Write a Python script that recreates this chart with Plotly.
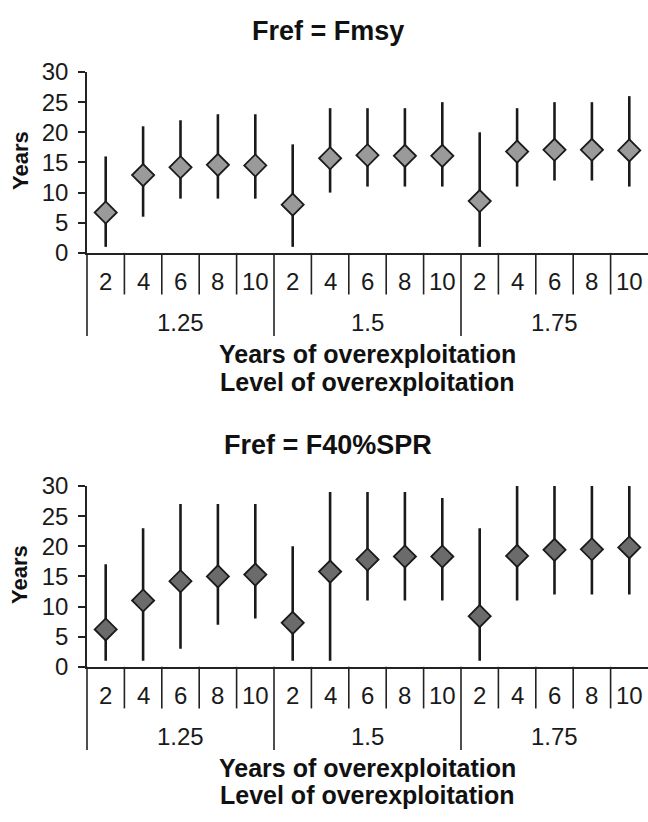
import plotly.graph_objects as go

# ---- data ----
years = ["2", "4", "6", "8", "10"]
levels = ["1.25", "1.5", "1.75"]

fmsy_mid = [6.7, 12.9, 14.2, 14.6, 14.5, 8.0, 15.7, 16.2, 16.1, 16.1, 8.6, 16.8, 17.1, 17.1, 17.0]
fmsy_lo = [1, 6, 9, 9, 9, 1, 10, 11, 11, 11, 1, 11, 12, 12, 11]
fmsy_hi = [16, 21, 22, 23, 23, 18, 24, 24, 24, 25, 20, 24, 25, 25, 26]

f40_mid = [6.2, 11.0, 14.2, 15.0, 15.3, 7.3, 15.8, 17.8, 18.3, 18.3, 8.4, 18.4, 19.4, 19.5, 19.8]
f40_lo = [1, 1, 3, 7, 8, 1, 1, 11, 11, 11, 1, 11, 12, 12, 12]
f40_hi = [17, 23, 27, 27, 27, 20, 29, 29, 29, 28, 23, 30, 30, 30, 30]

y_ticks = [0, 5, 10, 15, 20, 25, 30]
titles = ["Fref = Fmsy", "Fref = F40%SPR"]
x_title1 = "Years of overexploitation"
x_title2 = "Level of overexploitation"
y_title = "Years"

# ---- layout constants ----
W, H = 648, 822
FONT = "Liberation Sans, Arial, Helvetica, sans-serif"
INK = "#1a1a1a"


def py(pix):
    return 1 - pix / H


cats = [(lv, yr) for lv in levels for yr in years]
n = len(cats)
xs = list(range(n))

panels = [
    dict(title=titles[0], mid=fmsy_mid, lo=fmsy_lo, hi=fmsy_hi, color="#9a9a9a", off=0, ax=""),
    dict(title=titles[1], mid=f40_mid, lo=f40_lo, hi=f40_hi, color="#6b6b6b", off=428, ax="2"),
]

fig = go.Figure()
annotations = []
shapes = []
layout_axes = {}

for p in panels:
    off = p["off"]
    ax = p["ax"]
    fig.add_trace(go.Scatter(
        x=xs, y=p["mid"], mode="markers",
        xaxis="x" + ax, yaxis="y" + ax,
        marker=dict(symbol="diamond", size=17, color=p["color"],
                    line=dict(color=INK, width=1.8)),
        error_y=dict(type="data", symmetric=False,
                     array=[h - m for h, m in zip(p["hi"], p["mid"])],
                     arrayminus=[m - l for m, l in zip(p["mid"], p["lo"])],
                     thickness=2.6, width=0, color=INK),
        cliponaxis=False, showlegend=False, hoverinfo="skip",
    ))
    y_bottom = 247 + off
    y_top = 60 + off
    layout_axes["xaxis" + ax] = dict(
        domain=[87 / W, 1.0], range=[-0.5, n - 0.5], anchor="y" + ax,
        showline=True, linecolor="#222222", linewidth=1.6,
        showticklabels=False, ticks="", showgrid=False, zeroline=False,
        fixedrange=True,
    )
    layout_axes["yaxis" + ax] = dict(
        domain=[py(y_bottom), py(y_top)], range=[0, 30], anchor="x" + ax,
        tickvals=y_ticks, ticks="outside", ticklen=7, tickwidth=1.6, tickcolor="#222222",
        showline=True, linecolor="#222222", linewidth=1.6,
        showgrid=False, zeroline=False, ticklabelstandoff=5,
        tickfont=dict(family=FONT, size=24, color=INK), fixedrange=True,
    )
    xdom = "x" + ax + " domain"
    xd = "x" + ax
    # title
    annotations.append(dict(text="<b>%s</b>" % p["title"], xref="paper", yref="paper",
                            x=328 / W, y=py(18 + off), showarrow=False,
                            xanchor="center", yanchor="middle",
                            font=dict(family=FONT, size=27, color="#111111")))
    # y title
    annotations.append(dict(text="<b>%s</b>" % y_title, xref="paper", yref="paper",
                            x=20 / W, y=py(152 + off), showarrow=False, textangle=-90,
                            xanchor="center", yanchor="middle",
                            font=dict(family=FONT, size=22, color="#111111")))
    # inner tick labels
    for i, (lv, yr) in enumerate(cats):
        annotations.append(dict(text=yr, xref=xd, yref="paper", x=i, y=py(277 + off),
                                showarrow=False, xanchor="center", yanchor="middle",
                                font=dict(family=FONT, size=24, color=INK)))
    # outer labels
    for g, lv in enumerate(levels):
        center = g * len(years) + (len(years) - 1) / 2
        annotations.append(dict(text=lv, xref=xd, yref="paper", x=center, y=py(319 + off),
                                showarrow=False, xanchor="center", yanchor="middle",
                                font=dict(family=FONT, size=24, color=INK)))
    # axis titles under categories
    annotations.append(dict(text="<b>%s</b>" % x_title1, xref=xdom, yref="paper", x=0.5,
                            y=py(352 + off), showarrow=False, xanchor="center", yanchor="middle",
                            font=dict(family=FONT, size=25, color="#111111")))
    annotations.append(dict(text="<b>%s</b>" % x_title2, xref=xdom, yref="paper", x=0.5,
                            y=py(380 + off), showarrow=False, xanchor="center", yanchor="middle",
                            font=dict(family=FONT, size=25, color="#111111")))
    # separators
    for b in range(0, n):
        frac = b / n
        outer = (b % len(years) == 0)
        y_end = (333 if outer else 290) + off
        shapes.append(dict(type="line", xref=xdom, yref="paper", x0=frac, x1=frac,
                           y0=py(y_bottom), y1=py(y_end),
                           line=dict(color="#222222", width=1.6)))

fig.update_layout(
    width=W, height=H, margin=dict(l=0, r=0, t=0, b=0),
    paper_bgcolor="white", plot_bgcolor="white",
    annotations=annotations, shapes=shapes, showlegend=False,
    **layout_axes,
)

fig.write_html("out.html")
